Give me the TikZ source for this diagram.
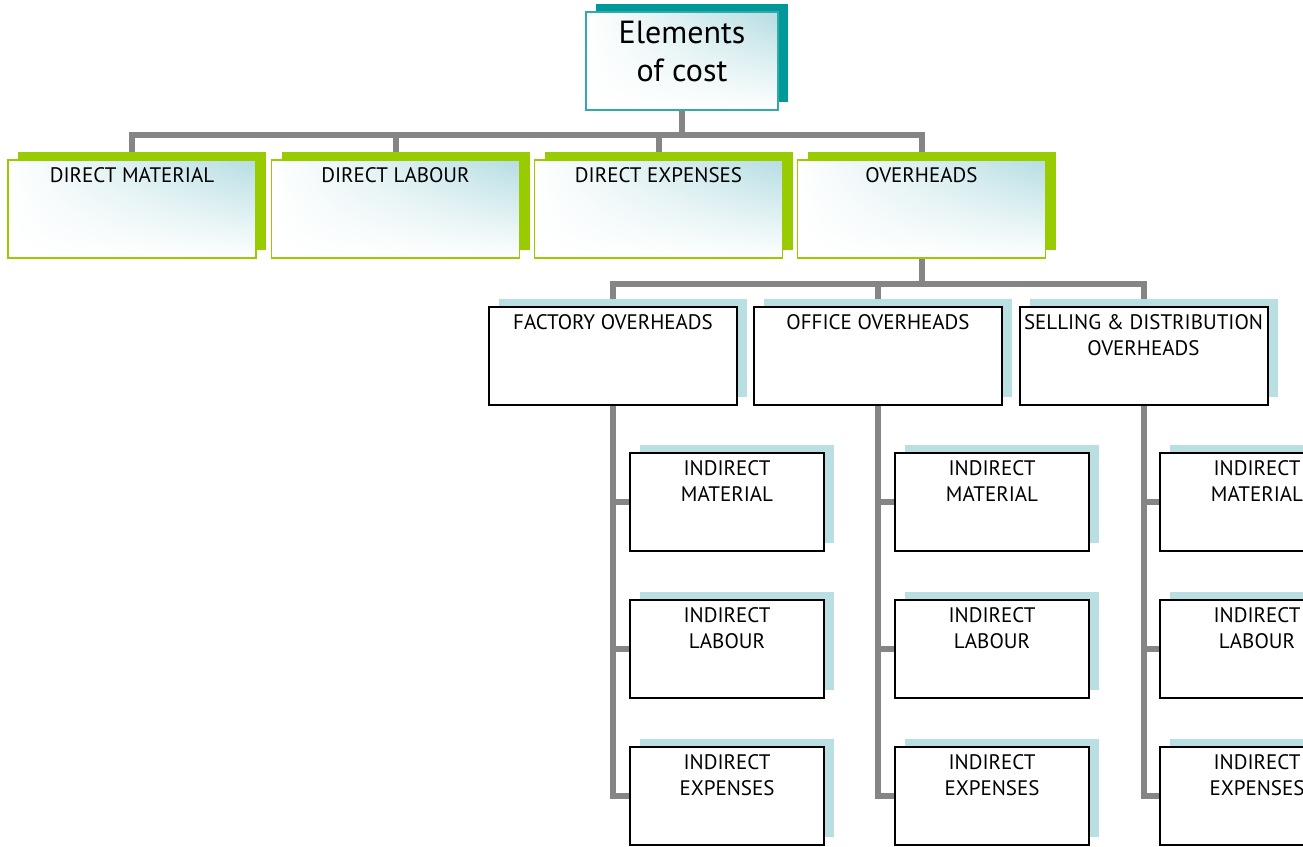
\documentclass[tikz,border=0pt]{standalone}
\usepackage{fontspec}
\setmainfont{PT Sans}
\usetikzlibrary{shadows,shadings,backgrounds}

\definecolor{costteal}{HTML}{009999}
\definecolor{tealline}{HTML}{33AAAA}
\definecolor{costgreen}{HTML}{99CC00}
\definecolor{shadeblue}{HTML}{B5DDE2}
\definecolor{paleblue}{HTML}{B9DFE3}
\definecolor{linkgray}{HTML}{858585}

\tikzset{
  box/.style={rectangle, minimum width=248pt, minimum height=98pt, inner sep=0pt},
  glossy/.style={upper right=shadeblue, upper left=white, lower left=white, lower right=white},
  topbox/.style={box, minimum width=192pt, draw=tealline, line width=1.4pt, glossy,
    general shadow={fill=costteal, shadow xshift=10pt, shadow yshift=8pt}},
  greenbox/.style={box, draw=costgreen, line width=1.8pt, glossy,
    general shadow={fill=costgreen, shadow xshift=10pt, shadow yshift=8pt}},
  whitebox/.style={box, draw=black, line width=2pt, fill=white,
    general shadow={fill=paleblue, shadow xshift=10pt, shadow yshift=8pt}},
  subbox/.style={whitebox, minimum width=194pt},
  titletext/.style={anchor=north, yshift=-10pt, align=center, inner sep=0pt,
    font=\fontsize{32}{38}\selectfont},
  boxtext/.style={anchor=north, yshift=-8pt, align=center, inner sep=0pt,
    font=\fontsize{21}{26}\selectfont},
  link/.style={draw=linkgray, line width=6pt}
}

\begin{document}
\begin{tikzpicture}[x=1pt, y=-1pt]
  \useasboundingbox (0,0) rectangle (1303,846);
  \clip (0,0) rectangle (1303,846);

  % Top
  \node[topbox, label={[titletext]north:Elements\\of cost}] (cost) at (682,61) {};

  % Elements
  \node[greenbox, label={[boxtext]north:DIRECT MATERIAL}] (dmat) at (132,209) {};
  \node[greenbox, label={[boxtext]north:DIRECT LABOUR}] (dlab) at (395.5,209) {};
  \node[greenbox, label={[boxtext]north:DIRECT EXPENSES}] (dexp) at (658.5,209) {};
  \node[greenbox, label={[boxtext]north:OVERHEADS}] (ovh) at (921.5,209) {};

  % Overheads
  \node[whitebox, label={[boxtext]north:FACTORY OVERHEADS}] (fac) at (613,356) {};
  \node[whitebox, label={[boxtext]north:OFFICE OVERHEADS}] (off) at (878,356) {};
  \node[whitebox, label={[boxtext]north:SELLING \& DISTRIBUTION\\OVERHEADS}] (sell) at (1143.5,356) {};

  % Indirect items
  \foreach \col/\x in {fac/727, off/992, sell/1257} {
    \node[subbox, label={[boxtext]north:INDIRECT\\MATERIAL}] (\col1) at (\x,502) {};
    \node[subbox, label={[boxtext]north:INDIRECT\\LABOUR}] (\col2) at (\x,649) {};
    \node[subbox, label={[boxtext]north:INDIRECT\\EXPENSES}] (\col3) at (\x,796) {};
  }

  % Connectors
  \coordinate (busa) at (0,135);
  \coordinate (busb) at (0,284);
  \begin{scope}[on background layer]
    \draw[link] (cost.south) -- (cost.south |- busa);
    \draw[link] (dmat.north) -- (dmat.north |- busa) -- (ovh.north |- busa) -- (ovh.north);
    \draw[link] (dlab.north) -- (dlab.north |- busa);
    \draw[link] (dexp.north) -- (dexp.north |- busa);
    \draw[link] (ovh.south) -- (ovh.south |- busb);
    \draw[link] (fac.north) -- (fac.north |- busb) -- (sell.north |- busb) -- (sell.north);
    \draw[link] (off.north) -- (off.north |- busb);
    \foreach \col in {fac, off, sell} {
      \draw[link] (\col.south) |- (\col3.west);
      \draw[link] (\col1.west) -- (\col1.west -| \col.south);
      \draw[link] (\col2.west) -- (\col2.west -| \col.south);
    }
  \end{scope}
\end{tikzpicture}
\end{document}
